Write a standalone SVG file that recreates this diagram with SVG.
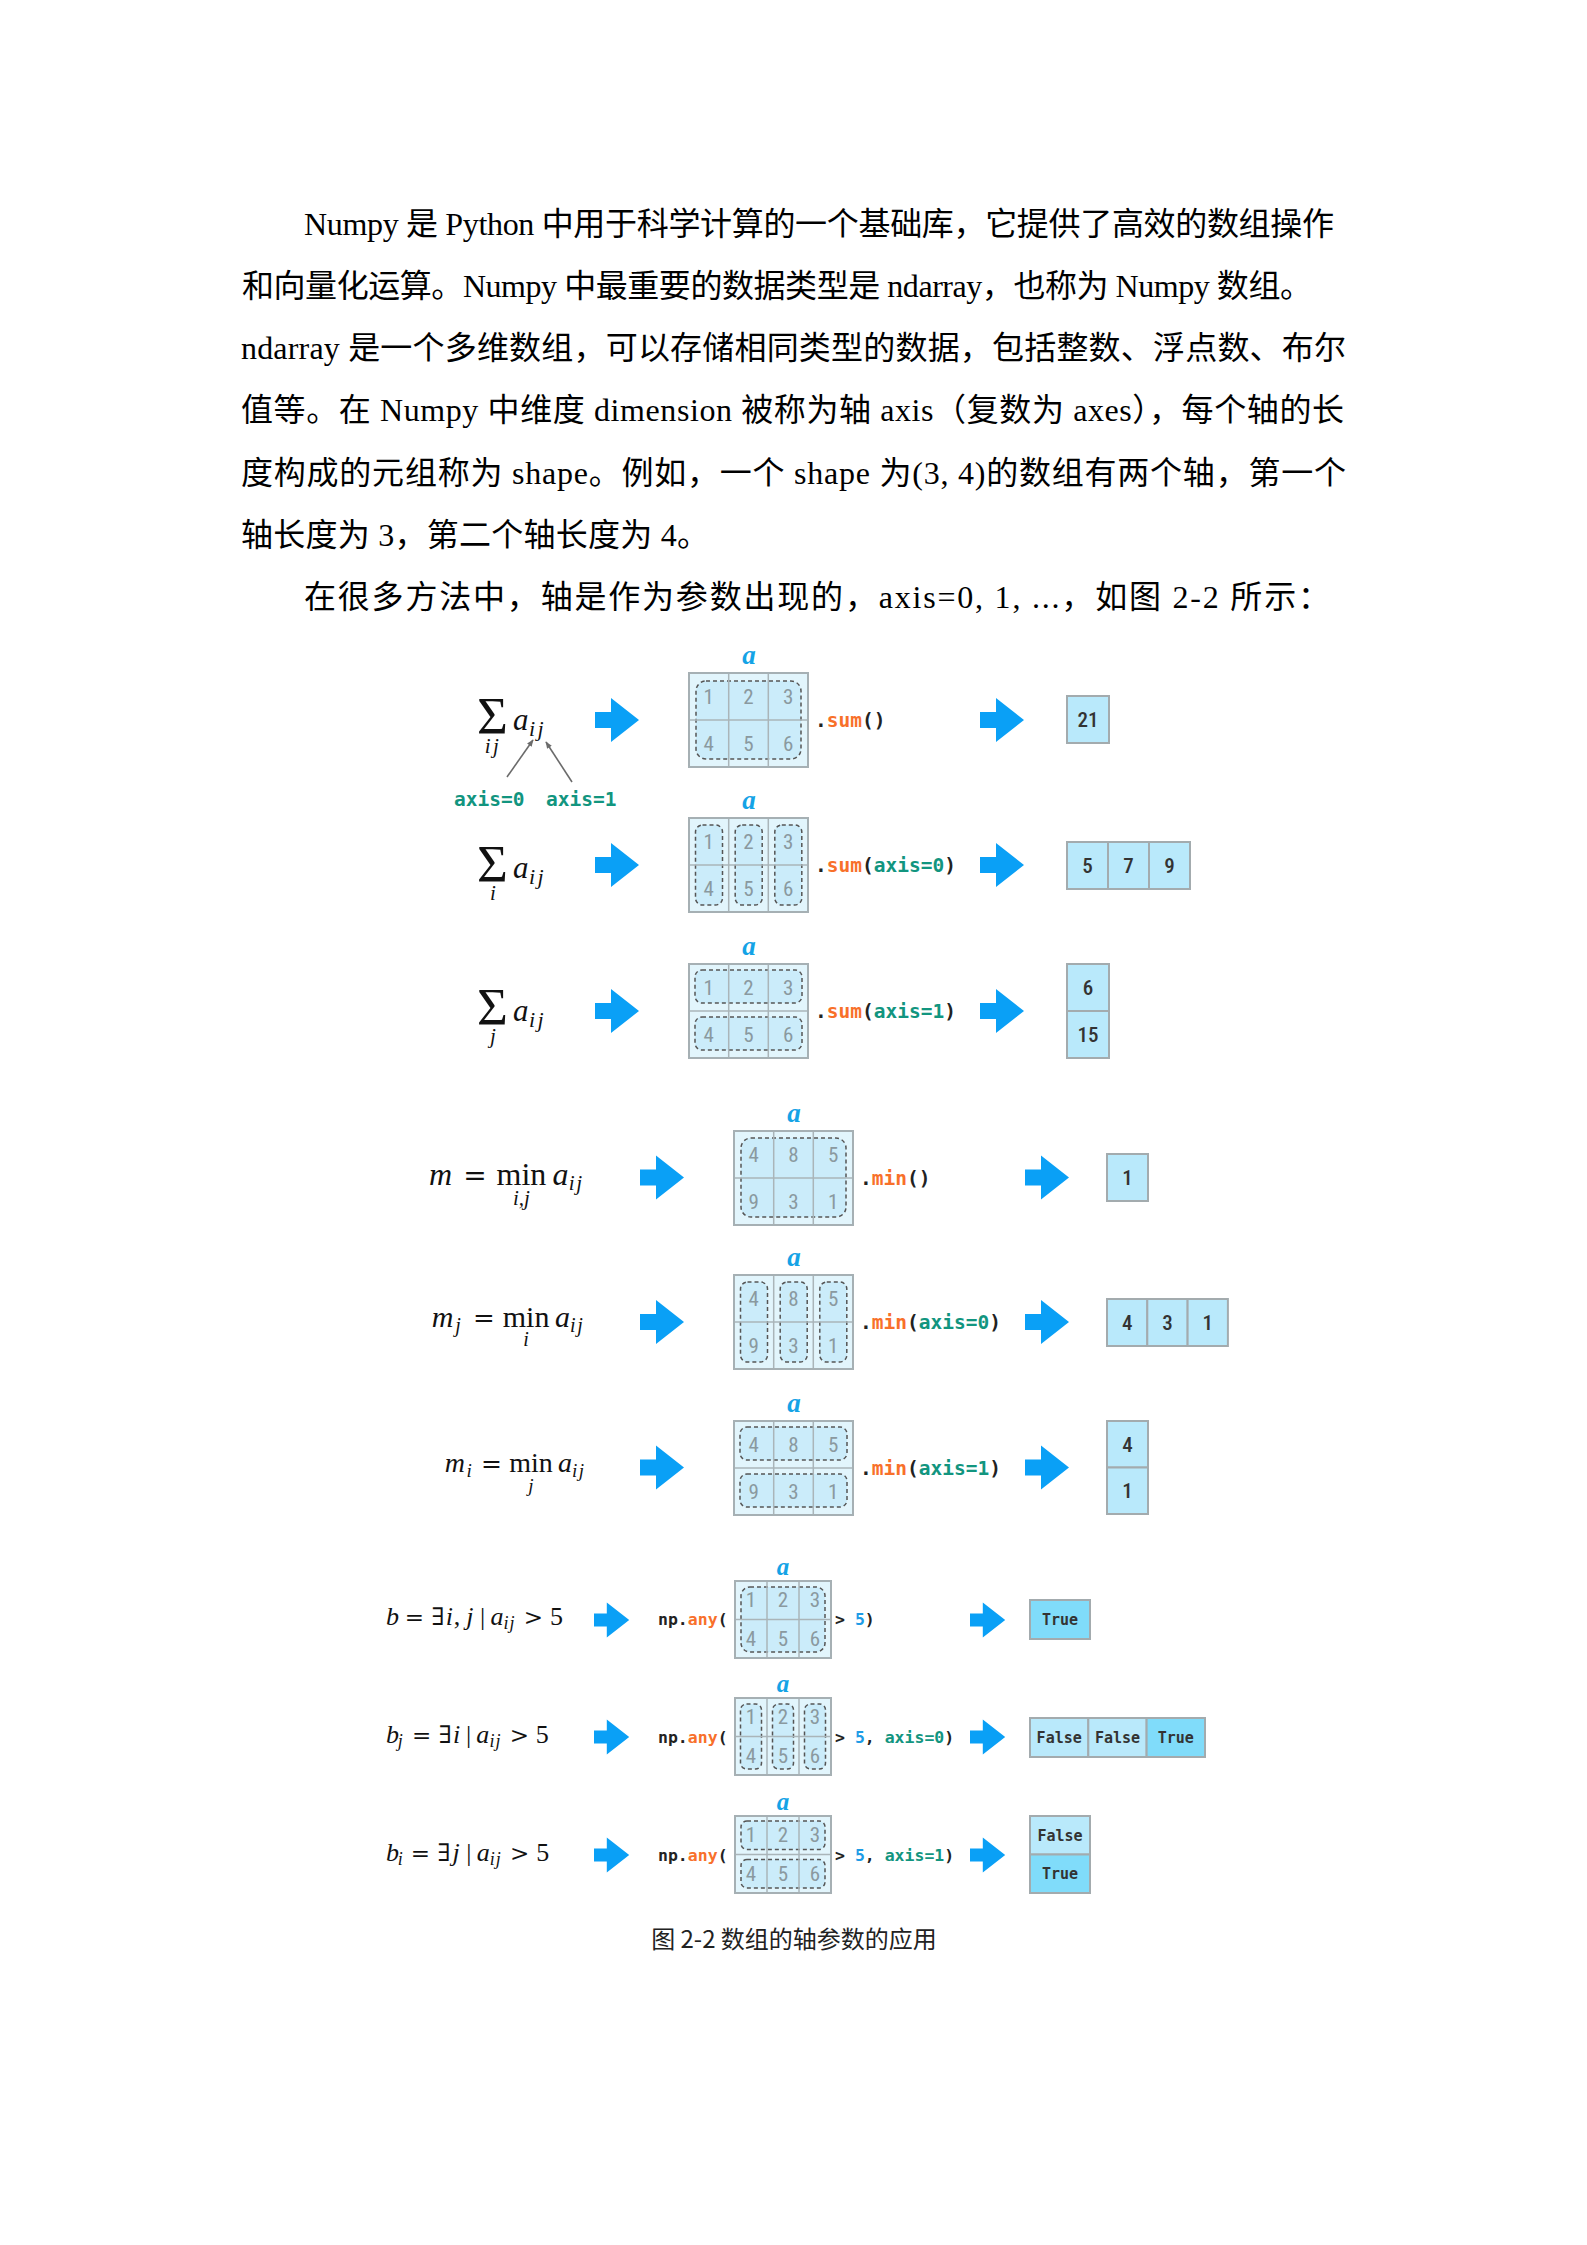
<svg xmlns="http://www.w3.org/2000/svg" xmlns:xlink="http://www.w3.org/1999/xlink" width="1587" height="2245" viewBox="0 0 1587 2245">
<style>
.body{font-family:"Liberation Serif","Noto Sans CJK SC",serif;font-size:32px;fill:#000}
.cap{font-family:"Noto Sans CJK SC",sans-serif;font-size:24px;fill:#222}
.mi{font-family:"Liberation Serif","DejaVu Serif",serif;font-style:italic;fill:#111}
.mr{font-family:"Liberation Serif","DejaVu Serif",serif;fill:#111}
.op{font-family:"DejaVu Serif","Liberation Serif",serif;fill:#111}
.lab{font-family:"Liberation Serif",serif;font-style:italic;font-weight:bold;font-size:27px;fill:#14a3e6;text-anchor:middle}
.lab2{font-size:25px}
.code{font-family:"DejaVu Sans Mono","Liberation Mono",monospace;font-weight:bold;font-size:19.5px;fill:#222}
.code2{font-size:16.5px}
.or{fill:#f8702a}
.tl{fill:#12957f}
.bl{fill:#1d9ce6}
.mbg{fill:#e2f5fc}
.sel{fill:#cbecfa;stroke:#555;stroke-width:1.5;stroke-dasharray:4 3}
.grid{stroke:#aab5b9;stroke-width:1.5;fill:none}
.bord{fill:none;stroke:#a6b0b4;stroke-width:2}
.num{font-family:"Liberation Sans Narrow","Roboto","DejaVu Sans",sans-serif;font-stretch:condensed;font-size:21px;fill:#8a999f;text-anchor:middle}
.rc{fill:#b9e9fb;stroke:#a3abae;stroke-width:2}
.rt{fill:#80dcfa;stroke:#a3abae;stroke-width:2}
.rn{font-family:"Liberation Sans Narrow","Roboto","DejaVu Sans",sans-serif;font-stretch:condensed;font-size:21px;font-weight:500;fill:#333;text-anchor:middle}
.rb{font-family:"DejaVu Sans Mono","Liberation Mono",monospace;font-weight:bold;font-size:15px;fill:#333;text-anchor:middle}
.blk{fill:#0aa0f6}
.ptr{stroke:#6b6b6b;stroke-width:1.6;fill:none}
</style>
<defs>
<path id="arr" d="M0,-8H16V-22L44,0L16,22V8H0Z"/>
<marker id="hd" viewBox="0 0 10 10" refX="9" refY="5" markerWidth="7" markerHeight="7" orient="auto" markerUnits="userSpaceOnUse">
<path d="M0,1L10,5L0,9Z" fill="#6b6b6b"/>
</marker>
</defs>
<rect x="0" y="0" width="1587" height="2245" fill="#fff"/>

<g id="paragraph">
<text class="body" x="304" y="235" textLength="1030" lengthAdjust="spacing">Numpy 是 Python 中用于科学计算的一个基础库，它提供了高效的数组操作</text>
<text class="body" x="242" y="297" textLength="1070" lengthAdjust="spacing">和向量化运算。Numpy 中最重要的数据类型是 ndarray，也称为 Numpy 数组。</text>
<text class="body" x="241" y="359" textLength="1105" lengthAdjust="spacing">ndarray 是一个多维数组，可以存储相同类型的数据，包括整数、浮点数、布尔</text>
<text class="body" x="241" y="421" textLength="1103" lengthAdjust="spacing">值等。在 Numpy 中维度 dimension 被称为轴 axis（复数为 axes），每个轴的长</text>
<text class="body" x="241" y="484" textLength="1105" lengthAdjust="spacing">度构成的元组称为 shape。例如，一个 shape 为(3, 4)的数组有两个轴，第一个</text>
<text class="body" x="241" y="546" textLength="468" lengthAdjust="spacing">轴长度为 3，第二个轴长度为 4。</text>
<text class="body" x="304" y="608" textLength="1026" lengthAdjust="spacing">在很多方法中，轴是作为参数出现的，axis=0, 1, ...，如图 2-2 所示：</text>
</g>

<g id="connectors">
<use xlink:href="#arr" class="blk" transform="translate(595,720)"/>
<use xlink:href="#arr" class="blk" transform="translate(980,720)"/>
<use xlink:href="#arr" class="blk" transform="translate(595,865)"/>
<use xlink:href="#arr" class="blk" transform="translate(980,865)"/>
<use xlink:href="#arr" class="blk" transform="translate(595,1011)"/>
<use xlink:href="#arr" class="blk" transform="translate(980,1011)"/>
<use xlink:href="#arr" class="blk" transform="translate(640,1177.5)"/>
<use xlink:href="#arr" class="blk" transform="translate(1025,1177.5)"/>
<use xlink:href="#arr" class="blk" transform="translate(640,1322)"/>
<use xlink:href="#arr" class="blk" transform="translate(1025,1322)"/>
<use xlink:href="#arr" class="blk" transform="translate(640,1467.5)"/>
<use xlink:href="#arr" class="blk" transform="translate(1025,1467.5)"/>
<use xlink:href="#arr" class="blk" transform="translate(594,1620) scale(0.8)"/>
<use xlink:href="#arr" class="blk" transform="translate(970,1620) scale(0.8)"/>
<use xlink:href="#arr" class="blk" transform="translate(594,1737) scale(0.8)"/>
<use xlink:href="#arr" class="blk" transform="translate(970,1737) scale(0.8)"/>
<use xlink:href="#arr" class="blk" transform="translate(594,1855) scale(0.8)"/>
<use xlink:href="#arr" class="blk" transform="translate(970,1855) scale(0.8)"/>
<path class="ptr" d="M507,777L533,740" marker-end="url(#hd)"/>
<path class="ptr" d="M572,782L546,742" marker-end="url(#hd)"/>
</g>

<!-- Row 1 -->
<g id="formula-1">
<text class="mr" x="477" y="734" font-size="53">Σ</text>
<text class="mi" x="513" y="730" font-size="31">a</text>
<text class="mi" x="529" y="736" font-size="22" letter-spacing="2.5">ij</text>
<text class="mi" x="493" y="753" font-size="21" letter-spacing="2.5" text-anchor="middle">ij</text>
</g>
<g id="axis-labels">
<text class="code tl" x="454" y="806">axis=0</text>
<text class="code tl" x="546" y="806">axis=1</text>
</g>
<g id="matrix-1">
<text class="lab" x="749" y="664">a</text>
<rect class="mbg" x="689" y="673" width="119" height="94"/>
<rect class="sel" x="696" y="681" width="105" height="78" rx="10"/>
<path class="grid" d="M728.7,673V767M768.3,673V767M689,720H808"/>
<rect class="bord" x="689" y="673" width="119" height="94"/>
<text class="num" x="708.8" y="704">1</text><text class="num" x="748.5" y="704">2</text><text class="num" x="788.2" y="704">3</text>
<text class="num" x="708.8" y="751">4</text><text class="num" x="748.5" y="751">5</text><text class="num" x="788.2" y="751">6</text>
</g>
<g id="code-1"><text class="code" x="815" y="727">.<tspan class="or">sum</tspan>()</text></g>
<g id="result-1">
<rect class="rc" x="1067" y="696" width="42" height="47"/>
<text class="rn" x="1088" y="727">21</text>
</g>

<!-- Row 2 -->
<g id="formula-2">
<text class="mr" x="477" y="882" font-size="53">Σ</text>
<text class="mi" x="513" y="878" font-size="31">a</text>
<text class="mi" x="529" y="884" font-size="22" letter-spacing="2.5">ij</text>
<text class="mi" x="493" y="900" font-size="21" text-anchor="middle">i</text>
</g>
<g id="matrix-2">
<text class="lab" x="749" y="809">a</text>
<rect class="mbg" x="689" y="818" width="119" height="94"/>
<rect class="sel" x="695.5" y="825" width="27" height="80" rx="7"/>
<rect class="sel" x="735.2" y="825" width="27" height="80" rx="7"/>
<rect class="sel" x="774.8" y="825" width="27" height="80" rx="7"/>
<path class="grid" d="M728.7,818V912M768.3,818V912M689,865H808"/>
<rect class="bord" x="689" y="818" width="119" height="94"/>
<text class="num" x="708.8" y="849">1</text><text class="num" x="748.5" y="849">2</text><text class="num" x="788.2" y="849">3</text>
<text class="num" x="708.8" y="896">4</text><text class="num" x="748.5" y="896">5</text><text class="num" x="788.2" y="896">6</text>
</g>
<g id="code-2"><text class="code" x="815" y="872">.<tspan class="or">sum</tspan>(<tspan class="tl">axis=0</tspan>)</text></g>
<g id="result-2">
<rect class="rc" x="1067" y="842" width="41" height="47"/>
<rect class="rc" x="1108" y="842" width="41" height="47"/>
<rect class="rc" x="1149" y="842" width="41" height="47"/>
<text class="rn" x="1087.5" y="873">5</text><text class="rn" x="1128.5" y="873">7</text><text class="rn" x="1169.5" y="873">9</text>
</g>

<!-- Row 3 -->
<g id="formula-3">
<text class="mr" x="477" y="1025" font-size="53">Σ</text>
<text class="mi" x="513" y="1021" font-size="31">a</text>
<text class="mi" x="529" y="1027" font-size="22" letter-spacing="2.5">ij</text>
<text class="mi" x="493" y="1043" font-size="21" text-anchor="middle">j</text>
</g>
<g id="matrix-3">
<text class="lab" x="749" y="955">a</text>
<rect class="mbg" x="689" y="964" width="119" height="94"/>
<rect class="sel" x="695" y="970" width="107" height="33" rx="7"/>
<rect class="sel" x="695" y="1017" width="107" height="33" rx="7"/>
<path class="grid" d="M728.7,964V1058M768.3,964V1058M689,1011H808"/>
<rect class="bord" x="689" y="964" width="119" height="94"/>
<text class="num" x="708.8" y="995">1</text><text class="num" x="748.5" y="995">2</text><text class="num" x="788.2" y="995">3</text>
<text class="num" x="708.8" y="1042">4</text><text class="num" x="748.5" y="1042">5</text><text class="num" x="788.2" y="1042">6</text>
</g>
<g id="code-3"><text class="code" x="815" y="1018">.<tspan class="or">sum</tspan>(<tspan class="tl">axis=1</tspan>)</text></g>
<g id="result-3">
<rect class="rc" x="1067" y="964" width="42" height="47"/>
<rect class="rc" x="1067" y="1011" width="42" height="47"/>
<text class="rn" x="1088" y="995">6</text><text class="rn" x="1088" y="1042">15</text>
</g>

<!-- Row 4 -->
<g id="formula-4">
<text class="mi" x="440.6" y="1185" font-size="32" text-anchor="middle">m</text>
<text class="op" x="474.9" y="1185" font-size="28" text-anchor="middle">=</text>
<text class="mr" x="521.4" y="1185" font-size="32" text-anchor="middle">min</text>
<text class="mi" x="560.6" y="1185" font-size="32" text-anchor="middle">a</text>
<text class="mi" x="568.8" y="1190" font-size="21" letter-spacing="1.5">ij</text>
<text class="mi" x="521.4" y="1205" font-size="21" text-anchor="middle">i,j</text>
</g>
<g id="matrix-4">
<text class="lab" x="794" y="1122">a</text>
<rect class="mbg" x="734" y="1131" width="119" height="94"/>
<rect class="sel" x="741" y="1138" width="105" height="79" rx="10"/>
<path class="grid" d="M773.7,1131V1225M813.3,1131V1225M734,1178H853"/>
<rect class="bord" x="734" y="1131" width="119" height="94"/>
<text class="num" x="753.8" y="1162">4</text><text class="num" x="793.5" y="1162">8</text><text class="num" x="833.2" y="1162">5</text>
<text class="num" x="753.8" y="1209">9</text><text class="num" x="793.5" y="1209">3</text><text class="num" x="833.2" y="1209">1</text>
</g>
<g id="code-4"><text class="code" x="860" y="1184.5">.<tspan class="or">min</tspan>()</text></g>
<g id="result-4">
<rect class="rc" x="1107" y="1154" width="41" height="47"/>
<text class="rn" x="1127.5" y="1185">1</text>
</g>

<!-- Row 5 -->
<g id="formula-5">
<text class="mi" x="442.6" y="1327" font-size="30" text-anchor="middle">m</text>
<text class="mi" x="455.3" y="1332" font-size="20">j</text>
<text class="op" x="484" y="1327" font-size="26" text-anchor="middle">=</text>
<text class="mr" x="526.1" y="1327" font-size="30" text-anchor="middle">min</text>
<text class="mi" x="562.5" y="1327" font-size="30" text-anchor="middle">a</text>
<text class="mi" x="570.1" y="1332" font-size="20" letter-spacing="1.5">ij</text>
<text class="mi" x="526.1" y="1346" font-size="20" text-anchor="middle">i</text>
</g>
<g id="matrix-5">
<text class="lab" x="794" y="1266">a</text>
<rect class="mbg" x="734" y="1275" width="119" height="94"/>
<rect class="sel" x="740.5" y="1282" width="27" height="80" rx="7"/>
<rect class="sel" x="780.2" y="1282" width="27" height="80" rx="7"/>
<rect class="sel" x="819.8" y="1282" width="27" height="80" rx="7"/>
<path class="grid" d="M773.7,1275V1369M813.3,1275V1369M734,1322H853"/>
<rect class="bord" x="734" y="1275" width="119" height="94"/>
<text class="num" x="753.8" y="1306">4</text><text class="num" x="793.5" y="1306">8</text><text class="num" x="833.2" y="1306">5</text>
<text class="num" x="753.8" y="1353">9</text><text class="num" x="793.5" y="1353">3</text><text class="num" x="833.2" y="1353">1</text>
</g>
<g id="code-5"><text class="code" x="860" y="1329">.<tspan class="or">min</tspan>(<tspan class="tl">axis=0</tspan>)</text></g>
<g id="result-5">
<rect class="rc" x="1107" y="1299" width="40.3" height="47"/>
<rect class="rc" x="1147.3" y="1299" width="40.3" height="47"/>
<rect class="rc" x="1187.6" y="1299" width="40.3" height="47"/>
<text class="rn" x="1127.2" y="1330">4</text><text class="rn" x="1167.5" y="1330">3</text><text class="rn" x="1207.8" y="1330">1</text>
</g>

<!-- Row 6 -->
<g id="formula-6">
<text class="mi" x="454.8" y="1472" font-size="28" text-anchor="middle">m</text>
<text class="mi" x="466.5" y="1477" font-size="19">i</text>
<text class="op" x="491.5" y="1472" font-size="25" text-anchor="middle">=</text>
<text class="mr" x="531" y="1472" font-size="28" text-anchor="middle">min</text>
<text class="mi" x="565" y="1472" font-size="28" text-anchor="middle">a</text>
<text class="mi" x="572" y="1477" font-size="19" letter-spacing="1.5">ij</text>
<text class="mi" x="531" y="1492" font-size="19" text-anchor="middle">j</text>
</g>
<g id="matrix-6">
<text class="lab" x="794" y="1412">a</text>
<rect class="mbg" x="734" y="1421" width="119" height="94"/>
<rect class="sel" x="740" y="1427" width="107" height="33" rx="7"/>
<rect class="sel" x="740" y="1474" width="107" height="33" rx="7"/>
<path class="grid" d="M773.7,1421V1515M813.3,1421V1515M734,1468H853"/>
<rect class="bord" x="734" y="1421" width="119" height="94"/>
<text class="num" x="753.8" y="1452">4</text><text class="num" x="793.5" y="1452">8</text><text class="num" x="833.2" y="1452">5</text>
<text class="num" x="753.8" y="1499">9</text><text class="num" x="793.5" y="1499">3</text><text class="num" x="833.2" y="1499">1</text>
</g>
<g id="code-6"><text class="code" x="860" y="1474.5">.<tspan class="or">min</tspan>(<tspan class="tl">axis=1</tspan>)</text></g>
<g id="result-6">
<rect class="rc" x="1107" y="1421" width="41" height="46.5"/>
<rect class="rc" x="1107" y="1467.5" width="41" height="46.5"/>
<text class="rn" x="1127.5" y="1451.5">4</text><text class="rn" x="1127.5" y="1498">1</text>
</g>

<!-- Row 7 -->
<g id="formula-7">
<text class="mi" x="392.4" y="1625" font-size="26" text-anchor="middle">b</text>
<text class="op" x="414.4" y="1625" font-size="23" text-anchor="middle">=</text>
<text class="op" x="438" y="1625" font-size="24" text-anchor="middle">∃</text>
<text class="mi" x="449.3" y="1625" font-size="26" text-anchor="middle">i</text>
<text class="mr" x="457" y="1625" font-size="26" text-anchor="middle">,</text>
<text class="mi" x="469.9" y="1625" font-size="26" text-anchor="middle">j</text>
<text class="mr" x="482.7" y="1625" font-size="26" text-anchor="middle">|</text>
<text class="mi" x="496.9" y="1625" font-size="26" text-anchor="middle">a</text>
<text class="mi" x="503.6" y="1629" font-size="18" letter-spacing="1">ij</text>
<text class="op" x="533.5" y="1625" font-size="23" text-anchor="middle">&gt;</text>
<text class="mr" x="556.4" y="1625" font-size="26" text-anchor="middle">5</text>
</g>
<g id="matrix-7">
<text class="lab lab2" x="783" y="1575">a</text>
<rect class="mbg" x="735" y="1581" width="96" height="77"/>
<rect class="sel" x="741" y="1587" width="84" height="65" rx="9"/>
<path class="grid" d="M767,1581V1658M799,1581V1658M735,1619.5H831"/>
<rect class="bord" x="735" y="1581" width="96" height="77"/>
<text class="num" x="751" y="1607">1</text><text class="num" x="783" y="1607">2</text><text class="num" x="815" y="1607">3</text>
<text class="num" x="751" y="1645.5">4</text><text class="num" x="783" y="1645.5">5</text><text class="num" x="815" y="1645.5">6</text>
</g>
<g id="code-7">
<text class="code code2" x="658" y="1625">np.<tspan class="or">any</tspan>(</text>
<text class="code code2" x="835" y="1625">&gt; <tspan class="bl">5</tspan>)</text>
</g>
<g id="result-7">
<rect class="rt" x="1030" y="1600" width="60" height="39"/>
<text class="rb" x="1060" y="1625">True</text>
</g>

<!-- Row 8 -->
<g id="formula-8">
<text class="mi" x="392.4" y="1743" font-size="26" text-anchor="middle">b</text>
<text class="mi" x="397.7" y="1747" font-size="18">j</text>
<text class="op" x="421.7" y="1743" font-size="23" text-anchor="middle">=</text>
<text class="op" x="445.3" y="1743" font-size="24" text-anchor="middle">∃</text>
<text class="mi" x="456.5" y="1743" font-size="26" text-anchor="middle">i</text>
<text class="mr" x="468.5" y="1743" font-size="26" text-anchor="middle">|</text>
<text class="mi" x="482.8" y="1743" font-size="26" text-anchor="middle">a</text>
<text class="mi" x="489.4" y="1747" font-size="18" letter-spacing="1">ij</text>
<text class="op" x="519.3" y="1743" font-size="23" text-anchor="middle">&gt;</text>
<text class="mr" x="542.2" y="1743" font-size="26" text-anchor="middle">5</text>
</g>
<g id="matrix-8">
<text class="lab lab2" x="783" y="1692">a</text>
<rect class="mbg" x="735" y="1698" width="96" height="77"/>
<rect class="sel" x="740.5" y="1704" width="21" height="65" rx="6"/>
<rect class="sel" x="772.5" y="1704" width="21" height="65" rx="6"/>
<rect class="sel" x="804.5" y="1704" width="21" height="65" rx="6"/>
<path class="grid" d="M767,1698V1775M799,1698V1775M735,1736.5H831"/>
<rect class="bord" x="735" y="1698" width="96" height="77"/>
<text class="num" x="751" y="1724">1</text><text class="num" x="783" y="1724">2</text><text class="num" x="815" y="1724">3</text>
<text class="num" x="751" y="1762.5">4</text><text class="num" x="783" y="1762.5">5</text><text class="num" x="815" y="1762.5">6</text>
</g>
<g id="code-8">
<text class="code code2" x="658" y="1742.5">np.<tspan class="or">any</tspan>(</text>
<text class="code code2" x="835" y="1742.5">&gt; <tspan class="bl">5</tspan>, <tspan class="tl">axis=0</tspan>)</text>
</g>
<g id="result-8">
<rect class="rc" x="1030" y="1718" width="58.3" height="39"/>
<rect class="rc" x="1088.3" y="1718" width="58.3" height="39"/>
<rect class="rt" x="1146.6" y="1718" width="58.4" height="39"/>
<text class="rb" x="1059.2" y="1743">False</text><text class="rb" x="1117.5" y="1743">False</text><text class="rb" x="1175.8" y="1743">True</text>
</g>

<!-- Row 9 -->
<g id="formula-9">
<text class="mi" x="392.4" y="1860.5" font-size="26" text-anchor="middle">b</text>
<text class="mi" x="397.7" y="1864.5" font-size="18">i</text>
<text class="op" x="420.4" y="1860.5" font-size="23" text-anchor="middle">=</text>
<text class="op" x="444" y="1860.5" font-size="24" text-anchor="middle">∃</text>
<text class="mi" x="456.1" y="1860.5" font-size="26" text-anchor="middle">j</text>
<text class="mr" x="468.9" y="1860.5" font-size="26" text-anchor="middle">|</text>
<text class="mi" x="483.2" y="1860.5" font-size="26" text-anchor="middle">a</text>
<text class="mi" x="489.8" y="1864.5" font-size="18" letter-spacing="1">ij</text>
<text class="op" x="519.7" y="1860.5" font-size="23" text-anchor="middle">&gt;</text>
<text class="mr" x="542.7" y="1860.5" font-size="26" text-anchor="middle">5</text>
</g>
<g id="matrix-9">
<text class="lab lab2" x="783" y="1810">a</text>
<rect class="mbg" x="735" y="1816" width="96" height="77"/>
<rect class="sel" x="741" y="1821" width="84" height="28.5" rx="6"/>
<rect class="sel" x="741" y="1859.5" width="84" height="28.5" rx="6"/>
<path class="grid" d="M767,1816V1893M799,1816V1893M735,1854.5H831"/>
<rect class="bord" x="735" y="1816" width="96" height="77"/>
<text class="num" x="751" y="1842">1</text><text class="num" x="783" y="1842">2</text><text class="num" x="815" y="1842">3</text>
<text class="num" x="751" y="1880.5">4</text><text class="num" x="783" y="1880.5">5</text><text class="num" x="815" y="1880.5">6</text>
</g>
<g id="code-9">
<text class="code code2" x="658" y="1860.5">np.<tspan class="or">any</tspan>(</text>
<text class="code code2" x="835" y="1860.5">&gt; <tspan class="bl">5</tspan>, <tspan class="tl">axis=1</tspan>)</text>
</g>
<g id="result-9">
<rect class="rc" x="1030" y="1816" width="60" height="38.5"/>
<rect class="rt" x="1030" y="1854.5" width="60" height="38.5"/>
<text class="rb" x="1060" y="1840.5">False</text><text class="rb" x="1060" y="1879">True</text>
</g>

<g id="caption">
<text class="cap" x="794" y="1948" text-anchor="middle">图 2-2 数组的轴参数的应用</text>
</g>
</svg>
